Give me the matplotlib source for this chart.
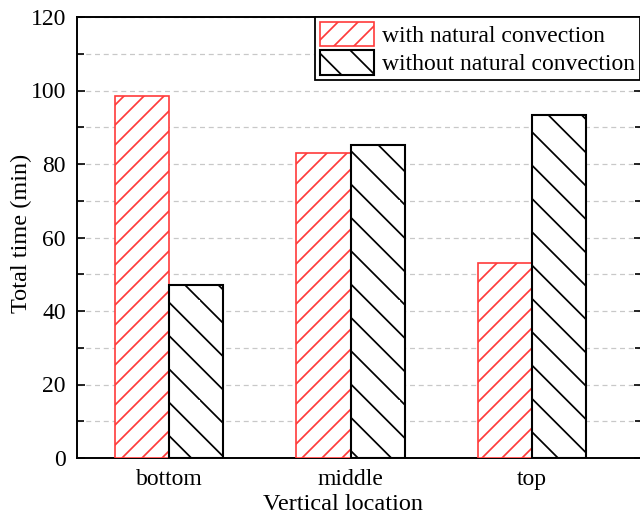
import numpy as np
import matplotlib.pyplot as plt
from matplotlib.backend_bases import GraphicsContextBase
from matplotlib.path import Path
from matplotlib.ticker import MultipleLocator


def sparse_hatch_path(self, density=6.0):
    """One diagonal line per hatch character inside each 1-inch hatch tile."""
    hatch = self.get_hatch()
    if hatch is None:
        return None
    verts, codes = [], []
    for ch, sign in (('/', 1), ('\\', -1)):
        n = hatch.count(ch)
        for k in range(n):
            for shift in (-1, 0, 1):
                c = k / n + shift
                x0, x1 = -0.1, 1.1
                if sign > 0:
                    verts += [(x0, x0 + c), (x1, x1 + c)]
                else:
                    verts += [(x0, c - x0), (x1, c - x1)]
                codes += [Path.MOVETO, Path.LINETO]
    if not verts:
        return Path(np.empty((0, 2)))
    return Path(np.array(verts), codes)


GraphicsContextBase.get_hatch_path = sparse_hatch_path

plt.rcParams['font.family'] = ['Liberation Serif', 'DejaVu Serif']
plt.rcParams['hatch.linewidth'] = 1.25

locations = ['bottom', 'middle', 'top']
with_convection = [98.5, 83.0, 53.0]
without_convection = [47.0, 85.3, 93.4]

red = '#ff3b3b'
x = np.arange(len(locations))
w = 0.30

fig = plt.figure(figsize=(6.4, 5.17), dpi=100)
ax = fig.add_axes([77 / 640, 1 - 458 / 517, 565 / 640, 441 / 517])

ax.bar(x - w, with_convection, w, align='edge', color='white', edgecolor=red,
       hatch='/////', linewidth=1.2, label='with natural convection', zorder=3)
ax.bar(x, without_convection, w, align='edge', color='white', edgecolor='black',
       hatch='\\\\\\', linewidth=1.5, label='without natural convection', zorder=3)

ax.set_xlim(-0.507, 2.606)
ax.set_ylim(0, 120)
ax.set_xticks(x)
ax.set_xticklabels(locations)
ax.yaxis.set_major_locator(MultipleLocator(20))
ax.yaxis.set_minor_locator(MultipleLocator(10))

ax.grid(True, axis='y', which='both', linestyle=(0, (4, 3)), color='#c8c8c8',
        linewidth=0.9, zorder=0)
ax.set_axisbelow(True)

ax.tick_params(axis='y', which='major', direction='in', length=6, width=1.2,
               right=True, labelsize=17, pad=8)
ax.tick_params(axis='y', which='minor', direction='in', length=5, width=1.2,
               right=True)
ax.tick_params(axis='x', length=0, labelsize=17, pad=8)
for s in ax.spines.values():
    s.set_linewidth(1.4)

ax.set_ylabel('Total time (min)', fontsize=17.5)
ax.set_xlabel('Vertical location', fontsize=17.5)
ax.yaxis.set_label_coords(-0.08, 0.51)
ax.xaxis.set_label_coords(0.471, -0.082)

leg = ax.legend(loc='upper right', bbox_to_anchor=(0.996, 1.0), borderaxespad=0,
                fontsize=17, fancybox=False, framealpha=1, edgecolor='black',
                handlelength=2.3, handleheight=1.2, handletextpad=0.32,
                labelspacing=0.15, borderpad=0.2)
leg.get_frame().set_linewidth(1.3)

fig.savefig('out.png', dpi=100)
